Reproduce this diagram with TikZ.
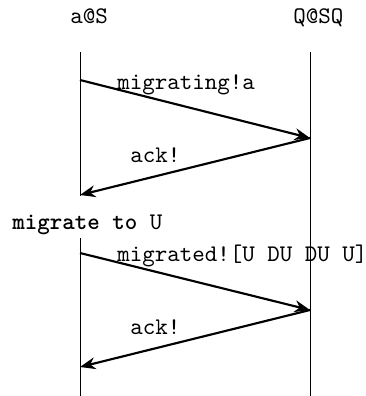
\documentclass[tikz,border=0pt]{standalone}
\usetikzlibrary{arrows.meta}

\begin{document}
\begin{tikzpicture}[x=0.42pt,y=0.42pt,yscale=-1,
  lifeline/.style={line width=0.4pt},
  msg/.style={line width=0.9pt,-{Stealth[length=6.5pt,width=5pt]}},
  lbl/.style={inner sep=0pt,anchor=base west,font=\ttfamily}]
\useasboundingbox (0,0) rectangle (365,396);

% Process names
\node[lbl] (headS) at (70,23) {a@S};
\node[lbl] (headQ) at (293,23) {Q@SQ};

% Lifelines (the left one stops for the migration step)
\coordinate (S0) at (80,52);
\coordinate (Sa) at (80,196);
\coordinate (Sb) at (80,238);
\coordinate (S1) at (80,396);
\coordinate (Q0) at (310,52);
\coordinate (Q1) at (310,396);
\draw[lifeline] (S0) -- (Sa);
\draw[lifeline] (Sb) -- (S1);
\draw[lifeline] (Q0) -- (Q1);

% Message end points
\coordinate (s1) at (80,80);
\coordinate (q1) at (310,138);
\coordinate (s2) at (80,195);
\coordinate (s3) at (80,253);
\coordinate (q3) at (310,310);
\coordinate (s4) at (80,367);

% Messages
\draw[msg] (s1) -- (q1);
\draw[msg] (q1) -- (s2);
\draw[msg] (s3) -- (q3);
\draw[msg] (q3) -- (s4);

% Text Node
\node[lbl] (migrating) at (117,89) {migrating!a};
% Text Node
\node[lbl] (ackA) at (130,162) {ack!};
% Text Node
\node[lbl] (migrate) at (12,229) {\textbf{migrate to} U};
% Text Node
\node[lbl] (migrated) at (117,261) {migrated![U DU DU U]};
% Text Node
\node[lbl] (ackB) at (130,334) {ack!};

\end{tikzpicture}
\end{document}
